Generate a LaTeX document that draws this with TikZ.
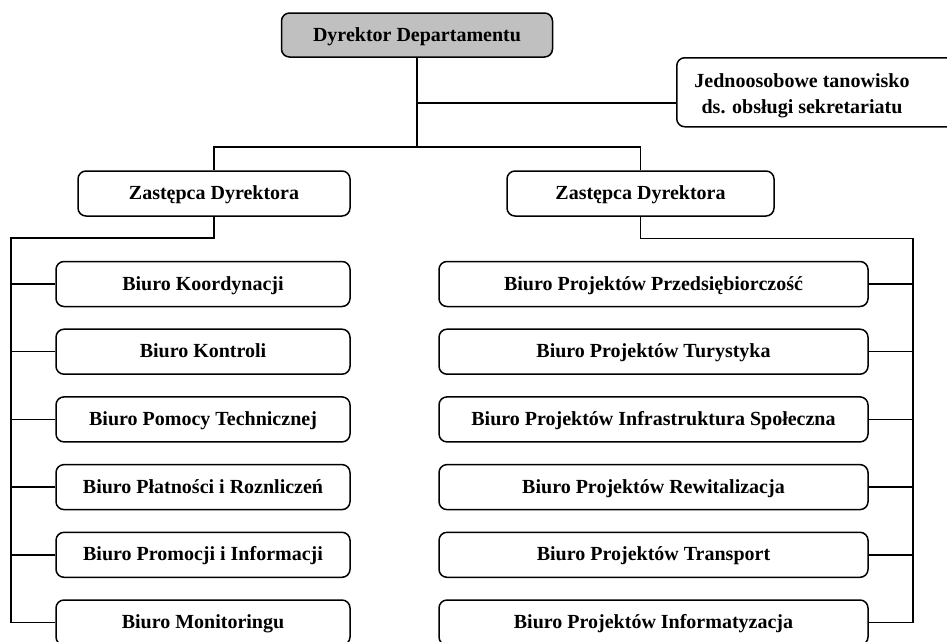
\documentclass[tikz,border=0pt]{standalone}
\usepackage{fontspec}
\setmainfont{Liberation Serif}
\definecolor{dirgray}{HTML}{C0C0C0}
\begin{document}
\begin{tikzpicture}[x=1pt,y=-1pt,
  box/.style={draw, line width=1.5pt, rounded corners=8pt, fill=white, inner sep=0pt,
    font=\fontsize{20}{26}\selectfont\bfseries, align=center, minimum height=45pt,
    text height=17pt, text depth=5pt},
  plain/.style={inner sep=0pt, font=\fontsize{20}{26}\selectfont\bfseries, align=center},
  conn/.style={line width=1.5pt}]
\useasboundingbox (0,0) rectangle (947,641);
\clip (0,0) rectangle (947,641);

% top
\node[box, fill=dirgray, minimum width=271pt, minimum height=44pt] (dir) at (417,35) {Dyrektor Departamentu};
\node[draw, line width=1.5pt, rounded corners=8pt, inner sep=0pt, minimum width=300pt, minimum height=69pt, anchor=north west] (sec) at (676,57) {};
\node[plain] (sectext) at (802,96) {Jednoosobowe tanowisko\\ds. obsługi sekretariatu};

% deputies
\node[box, minimum width=272pt] (z1) at (214,193.5) {Zastępca Dyrektora};
\node[box, minimum width=267pt] (z2) at (640.5,193.5) {Zastępca Dyrektora};

% left column
\foreach \i/\t in {1/Biuro Koordynacji,2/Biuro Kontroli,3/Biuro Pomocy Technicznej,4/Biuro Płatności i Roznliczeń,5/Biuro Promocji i Informacji,6/Biuro Monitoringu}
  \node[box, minimum width=294pt] (L\i) at (203,{284+67.7*(\i-1)}) {\t};
% right column
\foreach \i/\t in {1/Biuro Projektów Przedsiębiorczość,2/Biuro Projektów Turystyka,3/Biuro Projektów Infrastruktura Społeczna,4/Biuro Projektów Rewitalizacja,5/Biuro Projektów Transport,6/Biuro Projektów Informatyzacja}
  \node[box, minimum width=429pt] (R\i) at (653.5,{284+67.7*(\i-1)}) {\t};

% connectors
\coordinate (hbar) at (417,147);
\coordinate (secin) at (676,103);
\coordinate (lbus) at (11,238);
\coordinate (rbus) at (913,238.5);

\draw[conn] (dir.south) -- (hbar);
\draw[conn] (dir.south |- secin) -- (secin);
\draw[conn] (z1.north) -- (z1.north |- hbar) -- (z2.north |- hbar) -- (z2.north);

\draw[conn] (z1.south) -- (z1.south |- lbus) -- (lbus) -- (lbus |- L6.west) -- (L6.west);
\foreach \i in {1,...,5} \draw[conn] (lbus |- L\i.west) -- (L\i.west);

\draw[conn] (z2.south) -- (z2.south |- rbus) -- (rbus) -- (rbus |- R6.east) -- (R6.east);
\foreach \i in {1,...,5} \draw[conn] (rbus |- R\i.east) -- (R\i.east);
\end{tikzpicture}
\end{document}
